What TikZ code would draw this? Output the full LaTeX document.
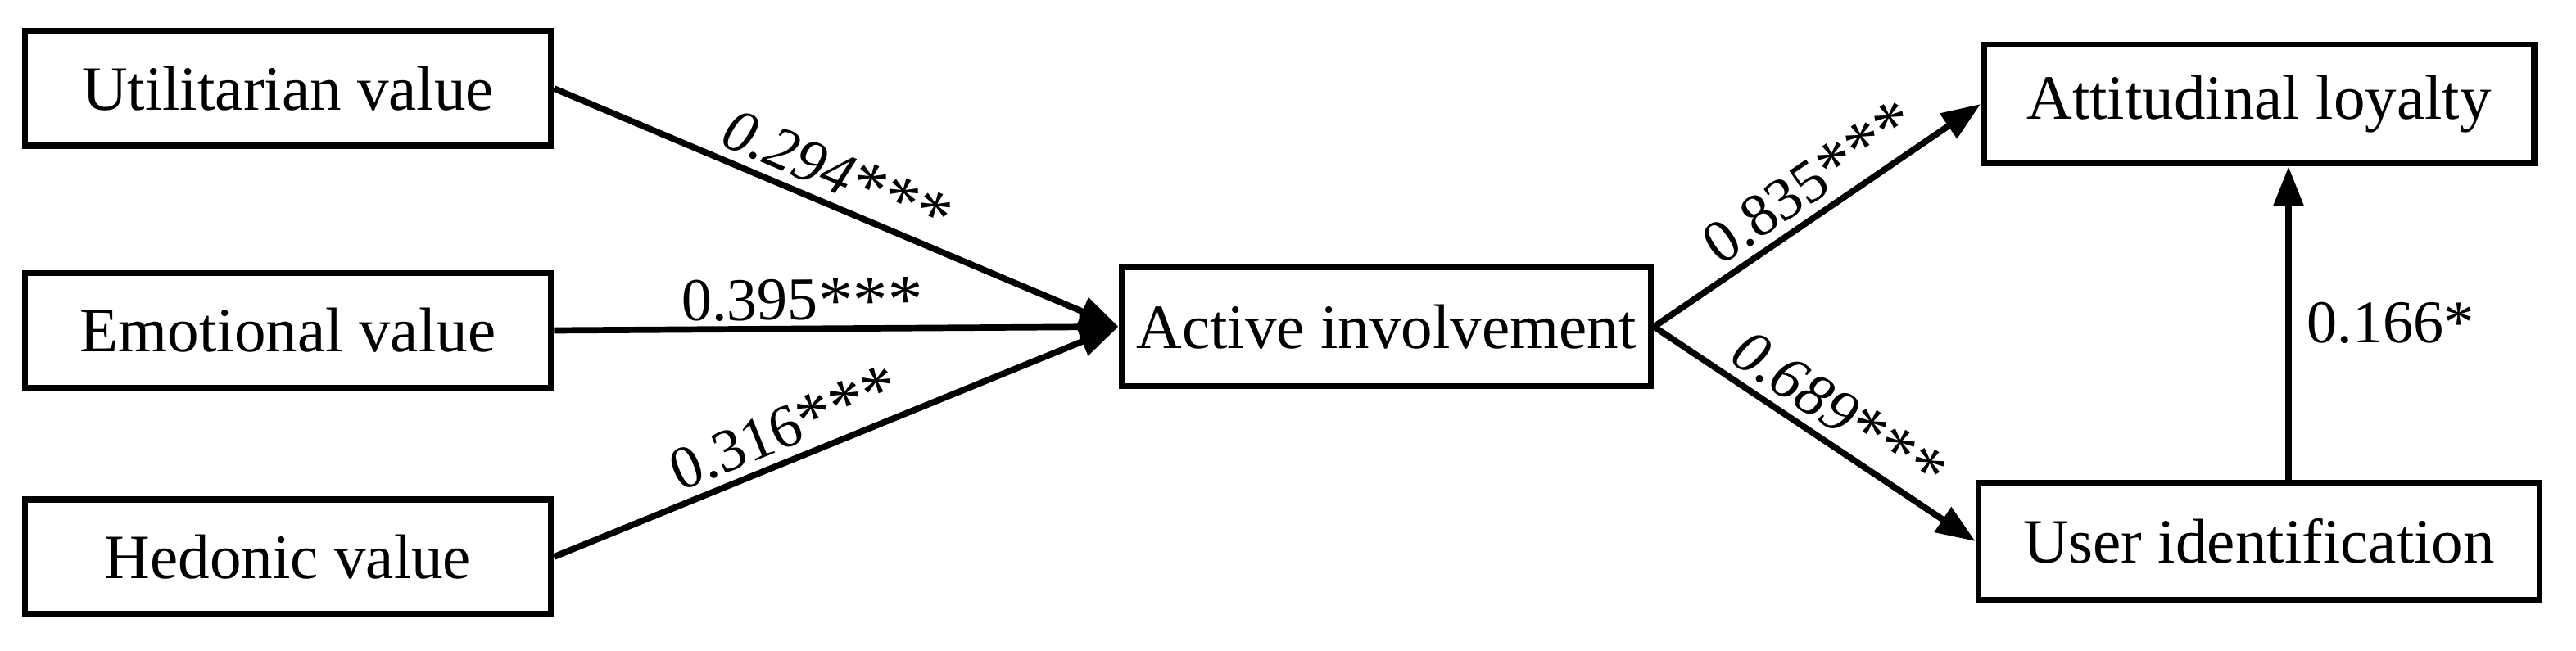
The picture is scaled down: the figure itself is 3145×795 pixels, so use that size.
\documentclass[tikz,border=0pt]{standalone}
\usepackage{fontspec}
\setmainfont{Liberation Serif}
\usetikzlibrary{arrows.meta}
\newcommand{\stars}[1]{\raisebox{-0.15ex}{\scalebox{1.15}{#1}}}
\begin{document}
\begin{tikzpicture}[x=0.24pt,y=-0.24pt,
  box/.style={draw,line width=1.85pt,inner sep=0pt,font=\fontsize{18.5pt}{20pt}\selectfont},
  conn/.style={line width=1.85pt},
  arr/.style={conn,-{Triangle[length=11.5pt,width=8.5pt]}},
  lab/.style={font=\fontsize{17.8pt}{19pt}\selectfont,inner sep=1.5pt}]
\useasboundingbox (0,0) rectangle (3145,795);
\node[box,minimum width=642*0.24pt,minimum height=140*0.24pt] (U) at (351.5,108) {Utilitarian value};
\node[box,minimum width=642*0.24pt,minimum height=140*0.24pt] (E) at (351.5,403.5) {Emotional value};
\node[box,minimum width=642*0.24pt,minimum height=140*0.24pt] (H) at (351.5,680) {Hedonic value};
\node[box,minimum width=646*0.24pt,minimum height=145*0.24pt] (A) at (1692.5,399) {Active involvement};
\node[box,minimum width=672*0.24pt,minimum height=145*0.24pt] (L) at (2758,127) {Attitudinal loyalty};
\node[box,minimum width=685*0.24pt,minimum height=143*0.24pt] (I) at (2758,661) {User identification};
\coordinate (vx) at (2794,0);
\draw[arr] (U.east) -- node[lab,sloped,above,pos=0.48] {\itshape 0.294\upshape\stars{***}} (A.west);
\draw[arr] (E.east) -- node[lab,sloped,above,pos=0.44,inner sep=0.5pt] {0.395\stars{***}} (A.west);
\draw[arr] (H.east) -- node[lab,sloped,above,pos=0.43] {0.316\stars{***}} (A.west);
\draw[arr] (A.east) -- node[lab,sloped,above,pos=0.53] {0.835\stars{***}} (L.west);
\draw[arr] (A.east) -- node[lab,sloped,above,pos=0.52] {\itshape 0.689\upshape\stars{***}} (I.west);
\draw[arr] (vx |- I.north) -- node[lab,right,pos=0.5,inner sep=4.5pt] {0.166*} (vx |- L.south);
\end{tikzpicture}
\end{document}
